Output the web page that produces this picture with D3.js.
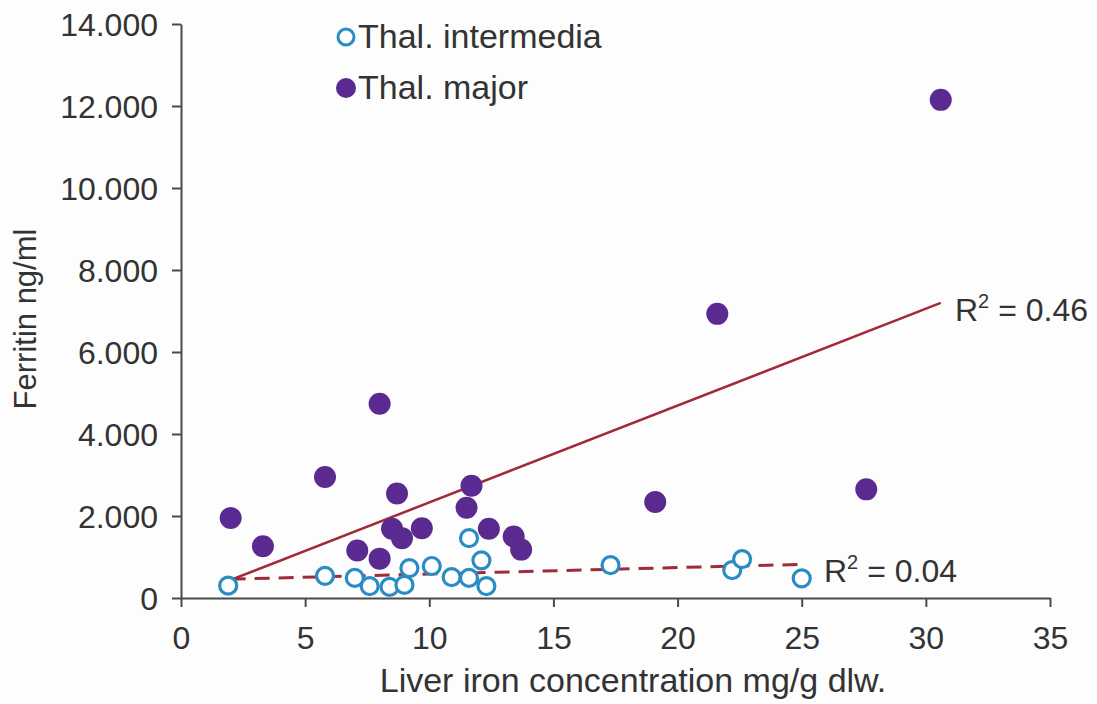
<!DOCTYPE html>
<html>
<head>
<meta charset="utf-8">
<script src="https://cdn.jsdelivr.net/npm/d3@7"></script>
<style>
  html, body { margin: 0; padding: 0; background: #fdfdfd; }
  svg { display: block; }
  text { font-family: "Liberation Sans", Arial, sans-serif; fill: #333; }
</style>
</head>
<body>
<svg id="chart" width="1097" height="704"></svg>
<script>
// ---- Data ----
const majorX = [2.0, 3.3, 5.8, 8.0, 7.1, 8.0, 8.7, 8.5, 8.9, 9.7, 11.7, 11.5, 12.4, 13.4, 13.7, 19.1, 21.6, 27.6, 30.6];
const majorY = [1950, 1260, 2950, 4740, 1160, 960, 2550, 1690, 1460, 1700, 2740, 2200, 1690, 1500, 1180, 2340, 6930, 2650, 12150];

const intermediaX = [1.9, 5.8, 7.0, 7.6, 8.4, 9.0, 9.2, 10.1, 10.9, 11.6, 11.6, 12.1, 12.3, 17.3, 22.2, 22.6, 25.0];
const intermediaY = [300, 540, 490, 290, 270, 320, 730, 780, 510, 490, 1460, 920, 290, 800, 680, 950, 480];

// regression line end points
const majorFitX = [2.0, 30.6];
const majorFitY = [440, 7200];
const intermediaFitX = [2.0, 25.0];
const intermediaFitY = [460, 820];

const xTicks = [0, 5, 10, 15, 20, 25, 30, 35];
const yTicks = [0, 2000, 4000, 6000, 8000, 10000, 12000, 14000];

const seriesNames = ["Thal. intermedia", "Thal. major"];
const r2Labels = ["0.46", "0.04"];

// ---- Chart ----
const svg = d3.select("#chart");
const x = d3.scaleLinear().domain([0, 35]).range([181, 1050]);
const y = d3.scaleLinear().domain([0, 14000]).range([598, 24]);

const locale = d3.formatLocale({decimal: ",", thousands: ".", grouping: [3], currency: ["", ""]});
const fmt = locale.format(",d");

const axisColor = "#4a4a4a";

const gx = svg.append("g").attr("transform", `translate(0,${y(0)})`)
  .call(d3.axisBottom(x).tickValues(xTicks).tickSize(9).tickSizeOuter(0).tickPadding(19));
const gy = svg.append("g").attr("transform", `translate(${x(0)},0)`)
  .call(d3.axisLeft(y).tickValues(yTicks).tickFormat(fmt).tickSize(9).tickSizeOuter(0).tickPadding(14));

[gx, gy].forEach(g => {
  g.select(".domain").attr("stroke", axisColor).attr("stroke-width", 2);
  g.selectAll(".tick line").attr("stroke", axisColor).attr("stroke-width", 2);
  g.selectAll(".tick text").attr("font-size", 32).attr("fill", "#333")
    .attr("font-family", "'Liberation Sans', Arial, sans-serif");
});
gy.selectAll(".tick text").attr("dy", "0.36em");

// Axis titles
svg.append("text")
  .attr("x", 633).attr("y", 692)
  .attr("text-anchor", "middle")
  .attr("font-size", 34)
  .text("Liver iron concentration mg/g dlw.");

svg.append("text")
  .attr("transform", `translate(36,${319}) rotate(-90)`)
  .attr("text-anchor", "middle")
  .attr("font-size", 31)
  .text("Ferritin ng/ml");

// Regression lines
const lineColor = "#a12a38";
svg.append("line")
  .attr("x1", x(majorFitX[0])).attr("y1", y(majorFitY[0]))
  .attr("x2", x(majorFitX[1])).attr("y2", y(majorFitY[1]))
  .attr("stroke", lineColor).attr("stroke-width", 2.5);

svg.append("line")
  .attr("x1", x(intermediaFitX[0])).attr("y1", y(intermediaFitY[0]))
  .attr("x2", x(intermediaFitX[1])).attr("y2", y(intermediaFitY[1]))
  .attr("stroke", lineColor).attr("stroke-width", 3)
  .attr("stroke-dasharray", "15,9");

// Points
const purple = "#5a2a91";
const blue = "#2a8cc4";

svg.append("g").selectAll("circle")
  .data(majorX.map((d, i) => [d, majorY[i]]))
  .join("circle")
  .attr("cx", d => x(d[0])).attr("cy", d => y(d[1]))
  .attr("r", 11)
  .attr("fill", purple);

svg.append("g").selectAll("circle")
  .data(intermediaX.map((d, i) => [d, intermediaY[i]]))
  .join("circle")
  .attr("cx", d => x(d[0])).attr("cy", d => y(d[1]))
  .attr("r", 8.5)
  .attr("fill", "#ffffff")
  .attr("stroke", blue).attr("stroke-width", 3.2);

// R² labels
function r2(xp, yp, val) {
  const t = svg.append("text").attr("x", xp).attr("y", yp).attr("font-size", 32);
  t.append("tspan").text("R");
  t.append("tspan").attr("font-size", 20).attr("dy", -13).text("2");
  t.append("tspan").attr("dy", 13).text(" = " + val);
}
r2(955, 321, r2Labels[0]);
r2(824, 582, r2Labels[1]);

// Legend
const lg = svg.append("g");
lg.append("circle").attr("cx", 346).attr("cy", 37).attr("r", 8)
  .attr("fill", "#fff").attr("stroke", blue).attr("stroke-width", 3);
lg.append("text").attr("x", 358).attr("y", 48).attr("font-size", 34).text(seriesNames[0]);
lg.append("circle").attr("cx", 346).attr("cy", 88).attr("r", 10).attr("fill", purple);
lg.append("text").attr("x", 358).attr("y", 99).attr("font-size", 34).text(seriesNames[1]);
</script>
</body>
</html>
